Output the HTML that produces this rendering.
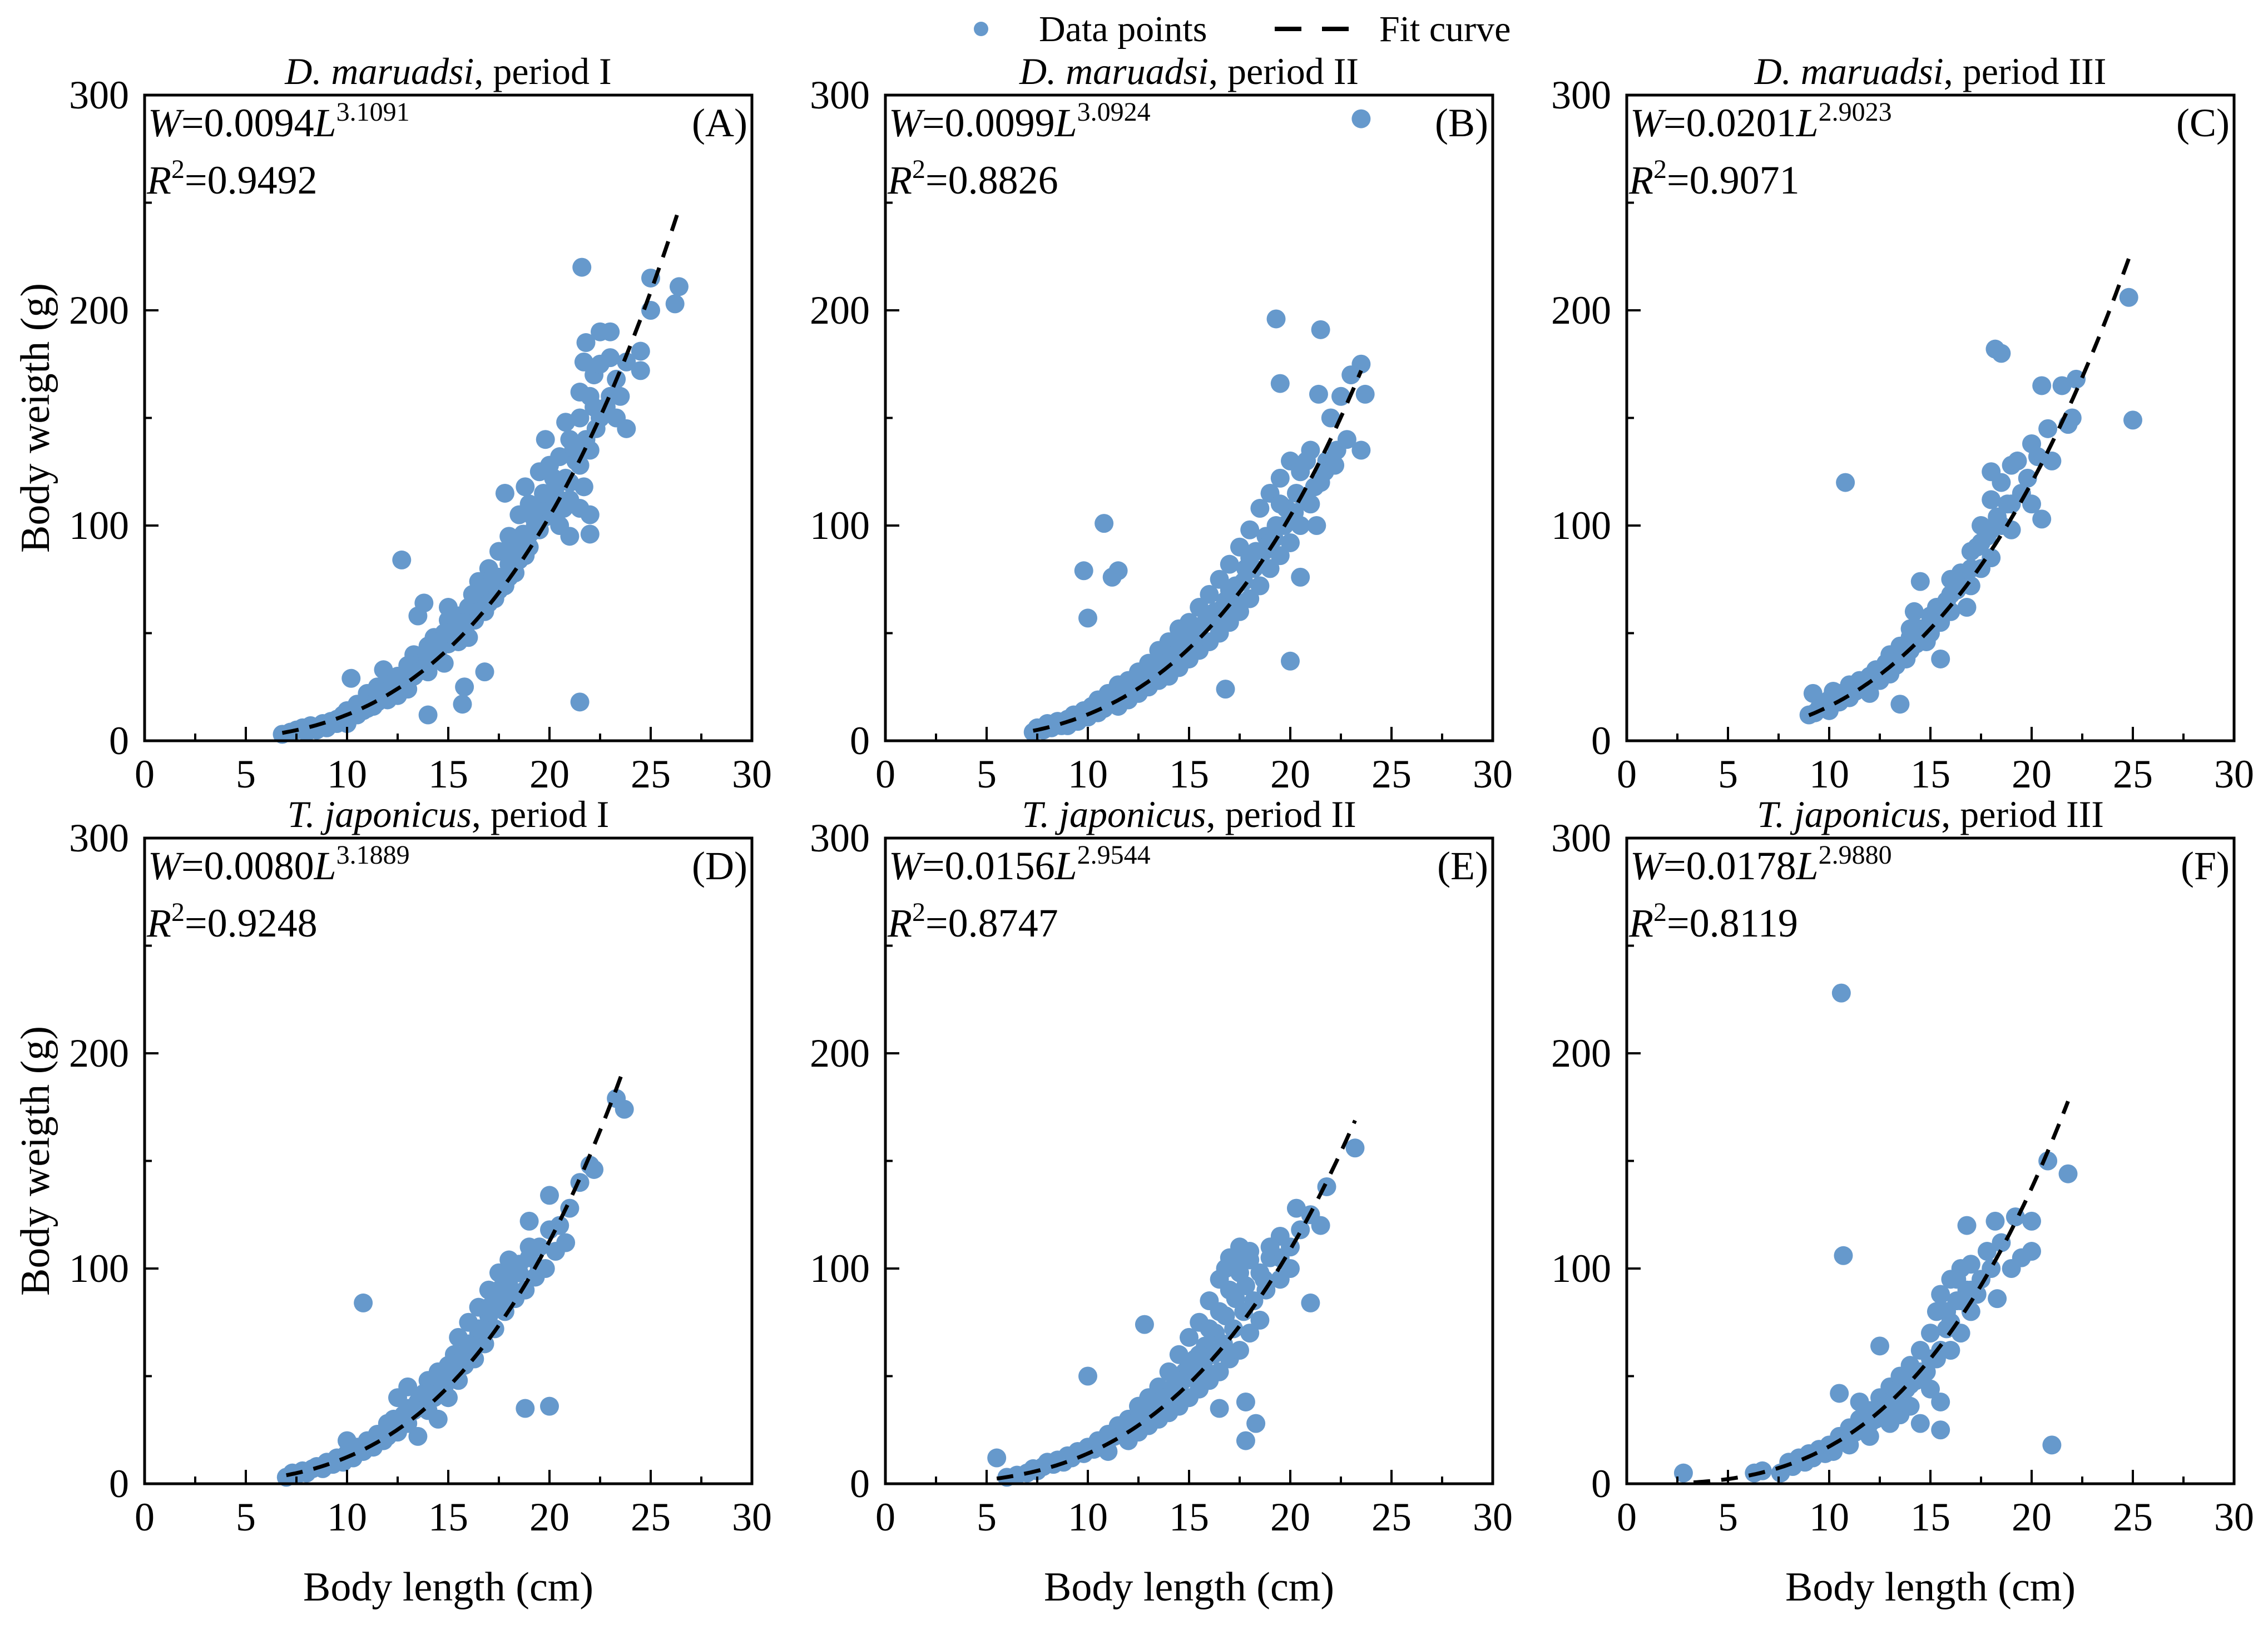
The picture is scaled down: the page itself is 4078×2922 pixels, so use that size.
<!DOCTYPE html>
<html><head><meta charset="utf-8"><style>
html,body{margin:0;padding:0;background:#fff;}
svg{display:block;font-family:"Liberation Serif","Times New Roman",Times,"DejaVu Serif",serif;}
svg text{font-family:"Liberation Serif","Times New Roman",Times,"DejaVu Serif",serif;fill:#000;}
</style></head><body>
<svg id="chart" width="4078" height="2922" viewBox="0 0 4078 2922" xmlns="http://www.w3.org/2000/svg">
<g>
<circle cx="1764" cy="52" r="13" fill="#6699cc"/>
<text x="1868" y="74" font-size="66">Data points</text>
<line x1="2292" y1="52" x2="2425" y2="52" stroke="#000" stroke-width="8" stroke-dasharray="48,37"/>
<text x="2480" y="74" font-size="66">Fit curve</text>
</g>
</svg>
<script>
const xTicks=[0,5,10,15,20,25,30];
const yTicks=[0,100,200,300];
const panelTitlesSpecies=["D. maruadsi","D. maruadsi","D. maruadsi","T. japonicus","T. japonicus","T. japonicus"];
const panelTitlesPeriod=[", period I",", period II",", period III",", period I",", period II",", period III"];
const panelLetters=["(A)","(B)","(C)","(D)","(E)","(F)"];
const fitA=[0.0094,0.0099,0.0201,0.0080,0.0156,0.0178];
const fitB=[3.1091,3.0924,2.9023,3.1889,2.9544,2.9880];
const fitAText=["0.0094","0.0099","0.0201","0.0080","0.0156","0.0178"];
const fitBText=["3.1091","3.0924","2.9023","3.1889","2.9544","2.9880"];
const r2Text=["0.9492","0.8826","0.9071","0.9248","0.8747","0.8119"];
const fitLmin=[6.8,7.3,9.0,7.0,5.5,3.3];
const fitLmax=[26.3,23.5,24.8,23.7,23.2,21.8];
const pointsA=[[6.8,3],[7.2,4],[7.5,5],[7.8,6],[8,4],[8.2,7],[8.5,5],[8.8,8],[9,6],[9.2,9],[9.5,8],[9.8,12],[10,10],[10,14],[10.2,29],[10.5,12],[10.5,17],[10.8,14],[11,18],[11,22],[11.3,16],[11.5,20],[11.5,25],[11.8,33],[12,19],[12,26],[12.3,22],[12.5,30],[12.5,25],[12.7,84],[12.8,28],[13,35],[13,24],[13.3,40],[13.3,30],[13.5,58],[13.6,36],[13.8,64],[14,12],[14,32],[14,44],[14.3,38],[14.3,48],[14.5,42],[14.8,50],[14.8,36],[15,45],[15,56],[15,62],[15.3,48],[15.5,52],[15.5,58],[15.7,17],[15.8,25],[15.8,55],[16,48],[16,62],[16.3,56],[16.5,66],[16.5,74],[16.8,60],[16.8,32],[17,70],[17,80],[17.3,66],[17.5,76],[17.5,88],[17.8,72],[17.8,115],[18,82],[18,95],[18.3,78],[18.5,90],[18.5,105],[18.8,86],[18.8,118],[19,96],[19,110],[19.3,100],[19.5,108],[19.5,125],[19.8,104],[19.8,140],[20,112],[20,128],[20.3,118],[20.5,132],[20.5,100],[20.8,122],[20.8,148],[21,112],[21,140],[21,95],[21.3,130],[21.5,150],[21.5,162],[21.5,108],[21.5,18],[21.6,220],[21.7,176],[21.8,185],[21.8,140],[22,160],[22,96],[22,105],[22.2,170],[22.3,145],[22.5,190],[22.5,175],[22.8,155],[23,178],[23,190],[23.3,150],[23.3,168],[23.5,160],[23.8,145],[23.8,176],[24.5,181],[24.5,172],[25,215],[25,200],[26.2,203],[26.4,211],
[9,7],[9.5,10],[10,8],[10.5,14],[11,15],[11.5,18],[12,23],[12.5,21],[13,28],[13.5,32],[14,38],[14.5,46],[15,50],[15.5,46],[16,55],[16.5,60],[17,64],[17.5,70],[18,76],[18.5,84],[19,90],[19.5,98],[20,105],[20.5,112],[21,120],[21.5,128],[22,135],[22.5,150],[23,160],[16.2,68],[17.2,76],[18.2,88],[19.2,104],[20.2,122],[21.2,136],[22.2,155],[18.7,96],[19.7,115],[20.7,108],[21.7,118]];
const pointsB=[[7.3,4],[7.5,6],[7.8,5],[8,8],[8.2,6],[8.5,9],[8.7,7],[9,10],[9,7],[9.3,12],[9.5,9],[9.8,14],[10,11],[10.2,16],[10.5,13],[10.5,19],[10.8,15],[11,22],[11,17],[11.3,20],[11.5,26],[11.5,16],[11.8,23],[12,28],[12,19],[12.3,25],[12.5,32],[12.5,22],[12.8,28],[13,36],[13,25],[13.3,32],[13.5,42],[13.5,28],[13.8,36],[14,46],[14,30],[14.3,40],[14.5,52],[14.5,34],[14.8,45],[15,55],[15,38],[15.3,50],[15.5,62],[15.5,42],[15.8,55],[16,68],[16,46],[16.3,60],[16.5,75],[16.5,50],[16.8,24],[16.8,65],[17,82],[17,55],[17.3,72],[17.5,90],[17.5,60],[17.8,80],[18,98],[18,66],[18.3,88],[18.5,108],[18.5,72],[18.8,95],[19,115],[19,80],[19.3,100],[19.5,122],[19.5,86],[19.8,108],[20,130],[20,92],[20.3,115],[20.5,76],[20.5,125],[21,110],[21,135],[21.5,120],[21.8,130],[22,150],[22.3,135],[22.5,160],[22.8,140],[23,170],[23.5,135],[9.8,79],[10,57],[10.8,101],[11.2,76],[11.5,79],[19.3,196],[19.5,166],[20,37],[21.5,191],[21.4,161],[23.5,175],[23.7,161],[23.5,289],
[16.2,56],[16.7,62],[17.2,66],[17.7,74],[18.2,80],[18.7,88],[19.2,94],[19.7,100],[20.2,106],[20.7,112],[21.2,118],[21.7,125],[22.2,128],[17,70],[18,85],[19,92],[19.5,110],[20.5,100],[21.3,100],[20.8,130],[14.2,38],[15.2,45],[13.2,30],[12.2,22]];
const pointsC=[[9,12],[9.2,22],[9.3,13],[9.5,15],[9.8,17],[10,14],[10,19],[10.2,23],[10.5,18],[10.5,22],[10.8,21],[11,20],[11,26],[11.3,23],[11.5,28],[11.8,25],[12,30],[12,22],[12.3,33],[12.5,28],[12.8,36],[13,31],[13,40],[13.3,35],[13.5,17],[13.5,44],[13.8,38],[14,48],[14,42],[14.2,60],[14.3,45],[14.5,52],[14.5,74],[14.8,46],[15,58],[15,50],[15.3,62],[15.5,55],[15.5,38],[15.8,65],[16,60],[16,75],[16.3,70],[16.5,78],[16.8,62],[17,72],[17,88],[17.3,90],[17.5,80],[17.5,100],[17.8,95],[18,85],[18,112],[18,125],[18.2,182],[18.5,180],[18.3,104],[18.5,120],[18.8,110],[19,128],[19,98],[19.3,130],[19.5,115],[19.8,122],[20,110],[20,138],[20.3,132],[20.5,165],[20.5,103],[20.8,145],[21,130],[21.5,165],[21.8,147],[22,150],[22.2,168],[24.8,206],[25,149],[10.8,120],
[16,68],[17,80],[18,98],[18.5,100],[19,110],[17.5,92],[14,52],[15,55]];
const pointsD=[[7,3],[7.3,5],[7.5,4],[7.8,6],[8,5],[8.3,7],[8.5,8],[8.8,7],[9,10],[9.3,9],[9.5,12],[9.8,10],[10,14],[10,20],[10.3,12],[10.5,17],[10.8,15],[10.8,84],[11,20],[11.3,17],[11.5,23],[11.8,20],[12,26],[12,22],[12.3,30],[12.5,24],[12.5,40],[12.8,32],[13,28],[13,45],[13.3,34],[13.5,38],[13.5,22],[13.8,42],[14,34],[14,48],[14.3,40],[14.5,52],[14.5,30],[14.8,45],[15,55],[15,40],[15.3,60],[15.5,48],[15.5,68],[15.8,55],[16,62],[16,75],[16.3,58],[16.5,70],[16.5,82],[16.8,65],[17,78],[17,90],[17.3,72],[17.5,85],[17.5,98],[17.8,80],[18,92],[18,104],[18.3,86],[18.5,98],[18.8,90],[18.8,35],[19,105],[19,122],[19.3,96],[19.5,110],[19.8,100],[20,118],[20,134],[20.3,108],[20.5,120],[20.8,112],[20,36],[21,128],[21.5,140],[22,148],[22.2,146],[23.3,179],[23.7,174],
[16,65],[16.5,72],[17,82],[17.5,90],[18,96],[18.5,102],[19,110],[19.5,100],[15,48],[15.5,56],[14,42],[13,35],[12,28]];
const pointsE=[[5.5,12],[6,3],[6.5,4],[7,5],[7.3,7],[7.5,6],[7.8,8],[8,10],[8.3,9],[8.5,11],[8.8,10],[9,13],[9.2,12],[9.5,15],[9.8,14],[10,17],[10,50],[10.3,16],[10.5,20],[10.8,18],[11,23],[11,15],[11.3,22],[11.5,27],[11.8,24],[12,30],[12,20],[12.3,28],[12.5,36],[12.5,24],[12.8,32],[12.8,74],[13,40],[13,27],[13.3,36],[13.5,45],[13.5,30],[13.8,40],[14,52],[14,33],[14.3,46],[14.5,60],[14.5,36],[14.8,52],[15,68],[15,40],[15.3,58],[15.5,75],[15.5,44],[15.8,64],[16,85],[16,48],[16.3,70],[16.5,95],[16.5,52],[16.5,35],[16.8,78],[17,105],[17,58],[17.3,86],[17.5,110],[17.5,62],[17.8,92],[17.8,38],[17.8,20],[18,70],[18,104],[18.3,28],[18.5,98],[18.5,76],[18.8,90],[19,105],[19.5,95],[19.5,115],[20,110],[20.3,128],[20.5,118],[21,84],[21,125],[21.5,120],[21.8,138],[23.2,156],
[14.2,40],[14.7,48],[15.2,50],[15.7,55],[16.2,60],[16.7,65],[17.2,72],[17.7,80],[18.2,85],[18.7,95],[15.5,60],[16,72],[16.5,80],[17,90],[17.5,98],[16.8,100],[17.3,104],[18,108],[13.5,38],[13,33],[12.5,30],[15,55],[19.5,105],[20,100],[19,110]];
const pointsF=[[2.8,5],[6.3,5],[6.7,6],[7.6,5],[8,10],[8.2,8],[8.5,12],[8.8,10],[9,14],[9.2,12],[9.5,16],[9.8,14],[10,18],[10.2,15],[10.5,22],[10.5,42],[10.6,228],[10.7,106],[10.8,20],[11,26],[11,18],[11.3,24],[11.5,30],[11.5,38],[11.8,26],[12,34],[12,22],[12.3,30],[12.5,40],[12.5,64],[12.8,34],[13,45],[13,28],[13.3,38],[13.5,50],[13.5,32],[13.8,44],[14,55],[14,36],[14.3,48],[14.5,62],[14.5,28],[14.8,52],[15,70],[15,44],[15.3,80],[15.3,58],[15.5,88],[15.5,25],[15.5,38],[15.8,72],[16,95],[16,62],[16.3,85],[16.5,100],[16.5,70],[16.8,90],[16.8,120],[17,102],[17,80],[17.5,95],[17.8,108],[18,100],[18.2,122],[18.3,86],[18.5,112],[19,100],[19.2,124],[19.5,105],[20,122],[20,108],[20.8,150],[21,18],[21.8,144],
[14,46],[14.5,52],[15,58],[15.5,62],[16,75],[16.5,85],[17,90],[15.8,80],[16.3,95],[17.3,88],[13,38],[12,28],[12.5,34],[11,22]];
const allPoints=[pointsA,pointsB,pointsC,pointsD,pointsE,pointsF];

const NS="http://www.w3.org/2000/svg";
const svg=document.getElementById('chart');
const colLeft=[260,1592,2925], rowTop=[171,1507], PW=1092, PH=1161;
const XMAX=30, YMAX=300;
function mk(tag,attrs,parent){const e=document.createElementNS(NS,tag);for(const k in attrs)e.setAttribute(k,attrs[k]);(parent||svg).appendChild(e);return e;}

for(let p=0;p<6;p++){
  const L=colLeft[p%3], T=rowTop[Math.floor(p/3)], B=T+PH, R=L+PW;
  const xs=v=>L+v/XMAX*PW, ys=v=>B-v/YMAX*PH;
  const g=mk('g',{});
  
  
  const pg=mk('g',{},g);
  
  
  for(const [lx,wy] of allPoints[p]){
    const c=mk('circle',{cx:xs(lx),cy:ys(wy),r:17,fill:'#6699cc'},pg);
    
    
  }
  let d='';
  for(let i=0;i<=120;i++){const lx=fitLmin[p]+(fitLmax[p]-fitLmin[p])*i/120;const wy=fitA[p]*Math.pow(lx,fitB[p]);d+=(i?'L':'M')+xs(lx).toFixed(1)+','+ys(wy).toFixed(1);}
  const fc=mk('path',{d:d,fill:'none',stroke:'#000','stroke-width':7,'stroke-dasharray':'30,20'},g);
  
  
  const fr=mk('rect',{x:L,y:T,width:PW,height:PH,fill:'none',stroke:'#000','stroke-width':5},g);
  
  
  for(let v=0;v<=30;v+=2.5){
    const major=(v%5===0);
    const tk=mk('line',{x1:xs(v),x2:xs(v),y1:B,y2:B-(major?25:13),stroke:'#000','stroke-width':4},g);
    
    
  }
  for(const v of xTicks){
    const t=mk('text',{x:xs(v),y:B+84,'font-size':72,'text-anchor':'middle'},g);
    t.textContent=v;
    
    
  }
  for(let v=0;v<=300;v+=50){
    const major=(v%100===0);
    const tk=mk('line',{x1:L,x2:L+(major?25:13),y1:ys(v),y2:ys(v),stroke:'#000','stroke-width':4},g);
    
    
  }
  for(const v of yTicks){
    const t=mk('text',{x:L-28,y:ys(v)+24,'font-size':72,'text-anchor':'end'},g);
    t.textContent=v;
    
    
  }
  const ti=mk('text',{x:L+PW/2,y:T-20,'font-size':68,'text-anchor':'middle'},g);
  
  
  const s1=mk('tspan',{'font-style':'italic'},ti); s1.textContent=panelTitlesSpecies[p];
  const s2=mk('tspan',{},ti); s2.textContent=panelTitlesPeriod[p];
  const eq=mk('text',{x:L+6,y:T+74,'font-size':72},g);
  
  
  const e1=mk('tspan',{'font-style':'italic'},eq); e1.textContent='W';
  const e2=mk('tspan',{},eq); e2.textContent='='+fitAText[p];
  const e3=mk('tspan',{'font-style':'italic'},eq); e3.textContent='L';
  const e4=mk('tspan',{dy:-28,'font-size':48},eq); e4.textContent=fitBText[p];
  const r2=mk('text',{x:L+4,y:T+177,'font-size':72},g);
  
  
  const r1=mk('tspan',{'font-style':'italic'},r2); r1.textContent='R';
  const r2s=mk('tspan',{dy:-28,'font-size':48},r2); r2s.textContent='2';
  const r3=mk('tspan',{dy:28},r2); r3.textContent='='+r2Text[p];
  const lt=mk('text',{x:R-8,y:T+74,'font-size':72,'text-anchor':'end'},g);
  lt.textContent=panelLetters[p];
  
  
  if(p%3===0){
    const cy=T+PH/2;
    const yt=mk('text',{x:0,y:0,'font-size':74,'text-anchor':'middle',transform:'translate(88,'+cy+') rotate(-90)'},g);
    yt.textContent='Body weigth (g)';
    
    
  }
  if(p>=3){
    const xt=mk('text',{x:L+PW/2,y:2878,'font-size':74,'text-anchor':'middle'},g);
    xt.textContent='Body length (cm)';
    
    
  }
}
</script>
</body></html>
